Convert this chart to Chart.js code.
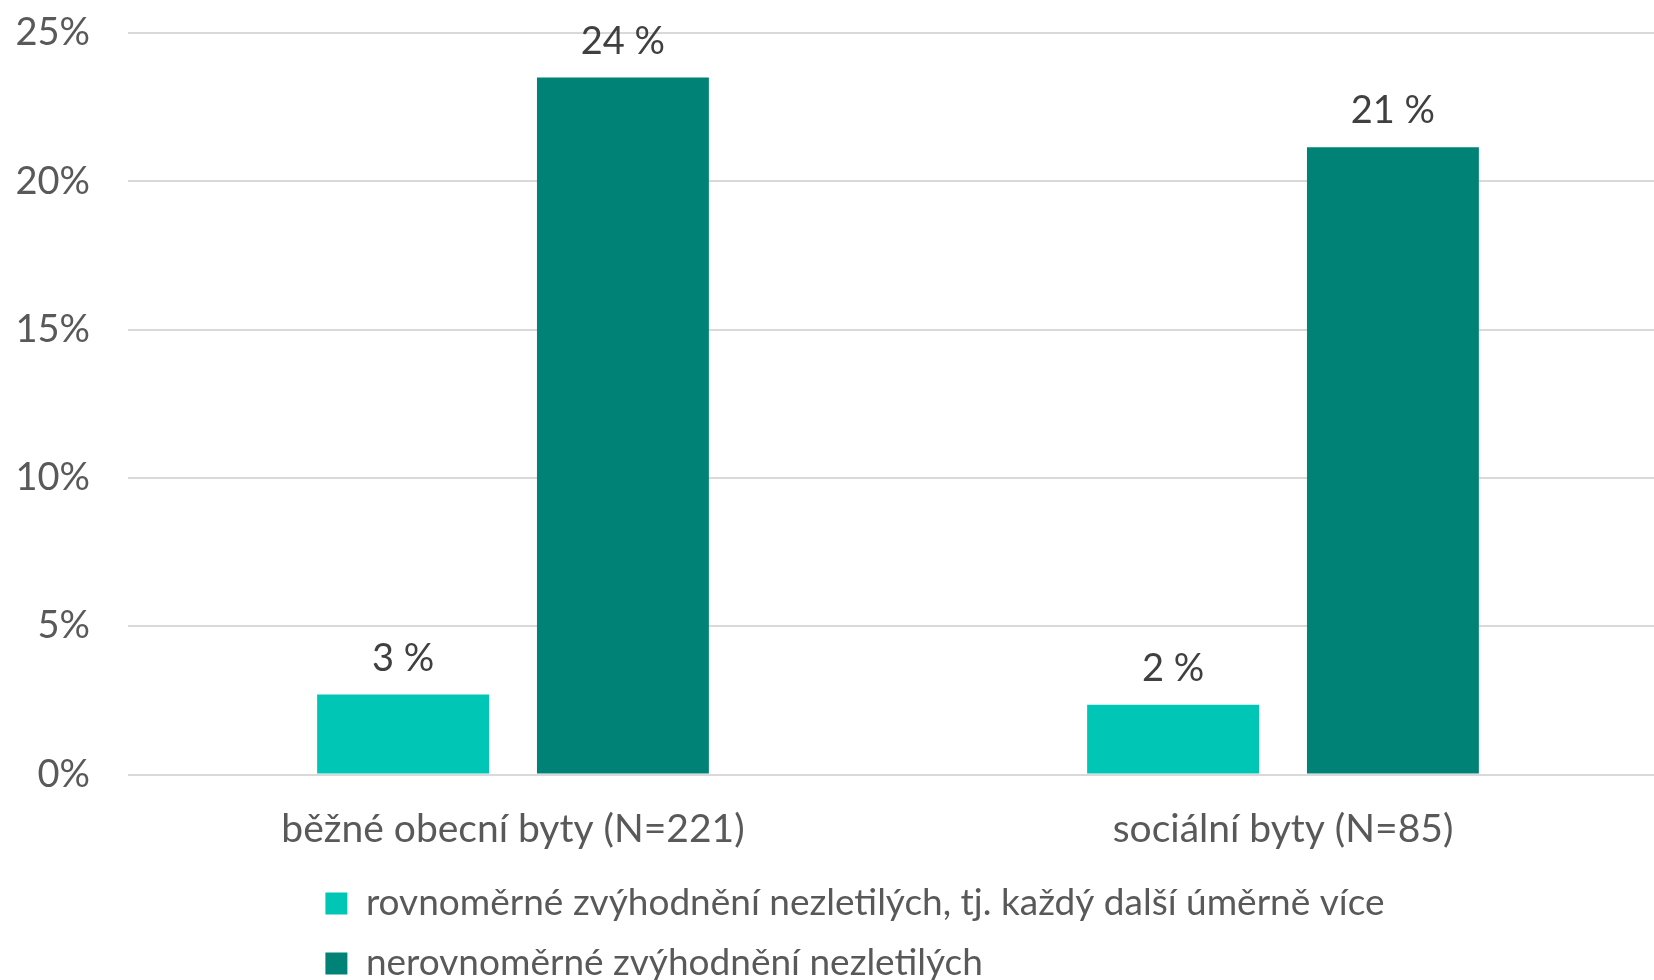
<!DOCTYPE html>
<html>
<head>
<meta charset="utf-8">
<script src="https://cdn.jsdelivr.net/npm/chart.js@4/dist/chart.umd.min.js"></script>
<style>
  html, body { margin: 0; padding: 0; background: #fff; overflow: hidden; }
  #wrap { position: relative; width: 1668px; height: 980px; }
</style>
</head>
<body>
<div id="wrap"><canvas id="c"></canvas></div>
<script>
const categories = ['běžné obecní byty (N=221)', 'sociální byty (N=85)'];
const seriesNames = ['rovnoměrné zvýhodnění nezletilých, tj. každý další úměrně více', 'nerovnoměrné zvýhodnění nezletilých'];
const evenValues = [2.7, 2.35];
const unevenValues = [23.5, 21.15];
const yTicks = [0, 5, 10, 15, 20, 25];

const FONT = 'Lato, "Open Sans", sans-serif';

const valueLabels = {
  id: 'valueLabels',
  afterDatasetsDraw(chart) {
    const ctx = chart.ctx;
    ctx.save();
    ctx.font = '38px ' + FONT;
    ctx.fillStyle = '#404040';
    ctx.textAlign = 'center';
    ctx.textBaseline = 'middle';
    chart.data.datasets.forEach((ds, di) => {
      const meta = chart.getDatasetMeta(di);
      meta.data.forEach((bar, i) => {
        ctx.fillText(Math.round(ds.data[i]) + ' %', bar.x, bar.y - 36);
      });
    });
    ctx.restore();
  }
};

const legendAlign = {
  id: 'legendAlign',
  afterLayout(chart) {
    const lg = chart.legend;
    if (lg && lg.lineWidths && lg.lineWidths.length) {
      const m = Math.max(...lg.lineWidths);
      lg.lineWidths = lg.lineWidths.map(() => m - 42);
    }
  }
};

new Chart(document.getElementById('c'), {
  type: 'bar',
  data: {
    labels: categories,
    datasets: [
      { label: seriesNames[0], data: evenValues, backgroundColor: '#00C7B5' },
      { label: seriesNames[1], data: unevenValues, backgroundColor: '#008276' }
    ]
  },
  options: {
    responsive: true,
    maintainAspectRatio: false,
    animation: false,
    datasets: { bar: { categoryPercentage: 0.571, barPercentage: 0.782 } },
    layout: { padding: { top: 33, left: 0, right: 0, bottom: -12 } },
    scales: {
      x: {
        afterFit(scale) { scale.height = 87.5; },
        grid: { display: false, drawTicks: false },
        border: { display: false },
        ticks: { color: '#595959', font: { family: FONT, size: 39 }, padding: 32 }
      },
      y: {
        min: 0, max: 25,
        afterFit(scale) { scale.width = 128; scale.paddingTop = 0; scale.paddingBottom = 0; },
        afterBuildTicks(scale) { scale.ticks = yTicks.map(v => ({ value: v })); },
        grid: { color: '#d9d9d9', lineWidth: 2, drawTicks: false },
        border: { display: false },
        ticks: { color: '#595959', font: { family: FONT, size: 38 }, padding: 38,
                 callback: v => v + '%' }
      }
    },
    plugins: {
      legend: {
        position: 'bottom',
        labels: { color: '#595959', font: { family: FONT, size: 37 }, boxWidth: 22, boxHeight: 22, padding: 23 }
      },
      tooltip: { enabled: false }
    }
  },
  plugins: [valueLabels, legendAlign]
});
</script>
</body>
</html>
